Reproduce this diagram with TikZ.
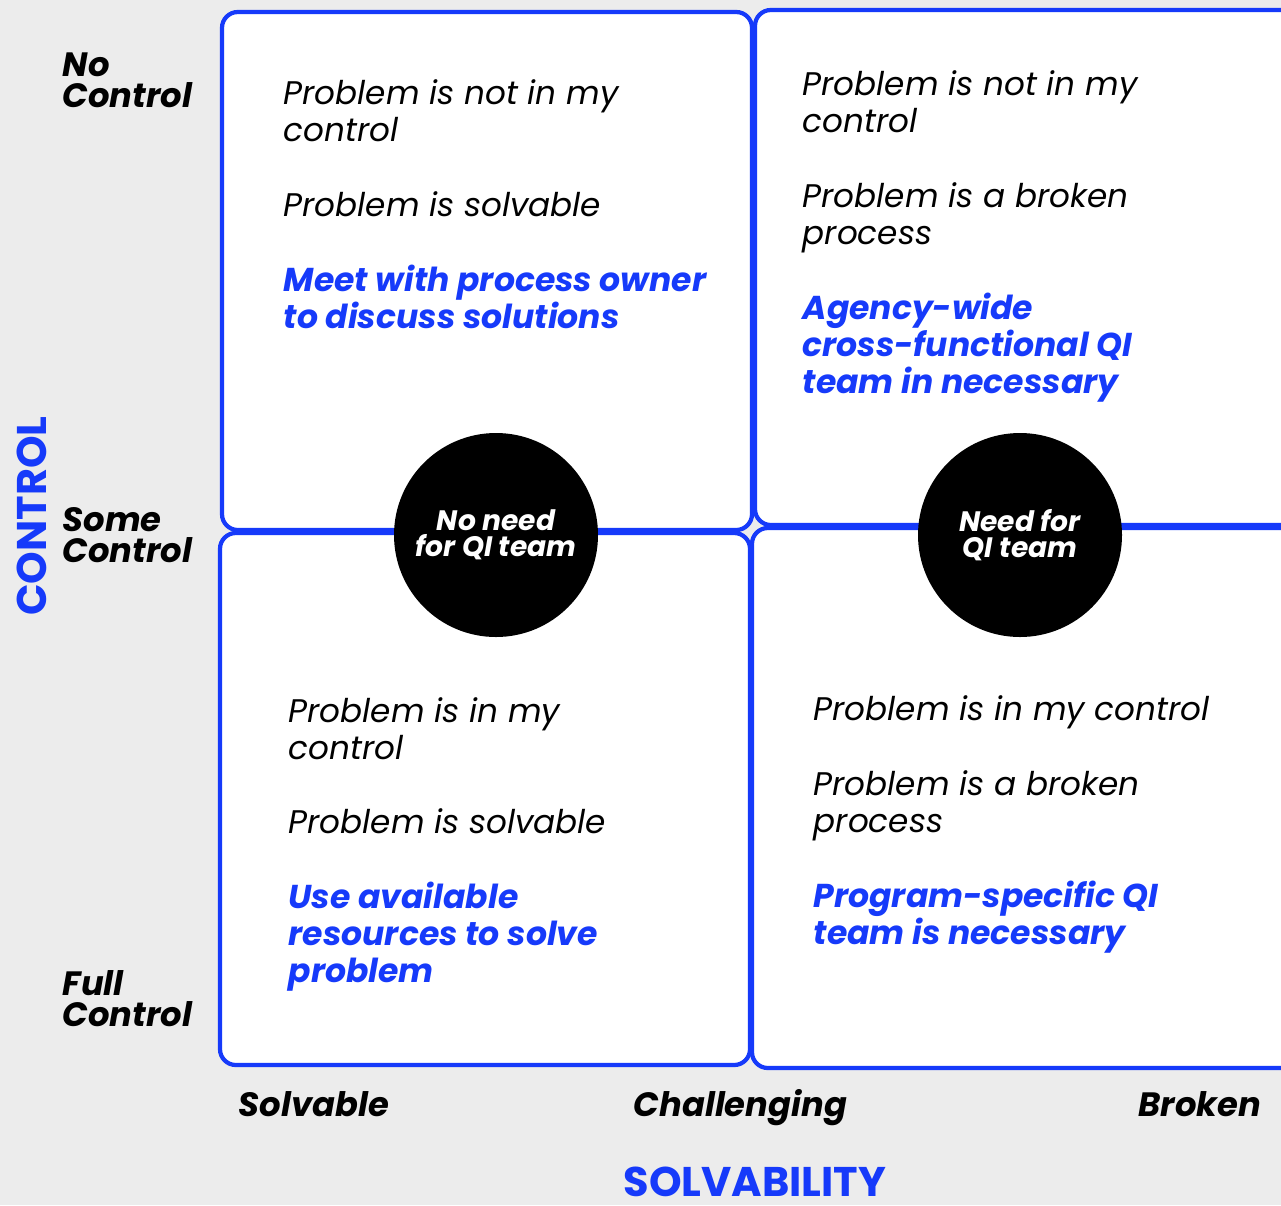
\documentclass[tikz,border=0pt]{standalone}
\usepackage{fontspec}
\setmainfont{Poppins}
\usetikzlibrary{positioning}
\definecolor{qblue}{RGB}{22,58,250}
\definecolor{bggray}{RGB}{236,236,236}
\begin{document}
\begin{tikzpicture}[x=0.1mm,y=-0.1mm]
\tikzstyle{quad} = [draw=qblue,line width=1.2pt,rounded corners=4.5pt,fill=white];
\tikzstyle{body} = [anchor=base west,align=left,inner sep=0pt,font=\fontsize{9.3}{10.5}\selectfont\itshape];
\tikzstyle{act} = [body,text=qblue,font=\fontsize{9.4}{10.5}\selectfont\bfseries\itshape];
\tikzstyle{lvl} = [anchor=base west,align=left,inner sep=0pt,font=\fontsize{9.6}{8.6}\selectfont\bfseries\itshape];
\tikzstyle{axis} = [text=qblue,inner sep=0pt,font=\fontsize{11.8}{11.8}\selectfont\bfseries];
\tikzstyle{team} = [circle,fill=black,minimum size=20.4mm,inner sep=0pt,align=center,text=white,font=\fontsize{8}{7.4}\selectfont\bfseries\itshape];
\useasboundingbox (0,0) rectangle (1281,1205);
\clip (0,0) rectangle (1281,1205);
\fill [bggray] (0,0) rectangle (1281,1205);

% quadrants
\draw [quad] (222,12) rectangle (752,530);
\draw [quad] (755,10) rectangle (1300,525);
\draw [quad] (220,533) rectangle (750,1065);
\draw [quad] (752,528) rectangle (1300,1068);

% level labels
\node [lvl] (nocontrol) at (62,107) {No\\Control};
\node [lvl] (somecontrol) at (62,562) {Some\\Control};
\node [lvl] (fullcontrol) at (62,1026) {Full\\Control};
\node [axis,rotate=90] (control) at (32,516) {CONTROL};

\node [lvl] (solvable) at (238,1116) {Solvable};
\node [lvl] (challenging) at (633,1116) {Challenging};
\node [lvl] (broken) at (1138,1116) {Broken};
\node [axis] (solvability) at (755,1182) {SOLVABILITY};

% top left
\node [body] (tl1) at (283,141) {Problem is not in my\\control};
\node [body] (tl2) at (283,216) {Problem is solvable};
\node [act] (tl3) at (283,328) {Meet with process owner\\to discuss solutions};

% top right
\node [body] (tr1) at (802,132) {Problem is not in my\\control};
\node [body] (tr2) at (802,244) {Problem is a broken\\process};
\node [act] (tr3) at (802,393) {Agency-wide\\cross-functional QI\\team in necessary};

% bottom left
\node [body] (bl1) at (288,759) {Problem is in my\\control};
\node [body] (bl2) at (288,833) {Problem is solvable};
\node [act] (bl3) at (288,982) {Use available\\resources to solve\\problem};

% bottom right
\node [body] (br1) at (813,720) {Problem is in my control};
\node [body] (br2) at (813,832) {Problem is a broken\\process};
\node [act] (br3) at (813,944) {Program-specific QI\\team is necessary};

% circles
\node [team] (noneed) at (496,535) {No need\\for QI team};
\node [team] (need) at (1020,535) {Need for\\QI team};
\end{tikzpicture}
\end{document}
